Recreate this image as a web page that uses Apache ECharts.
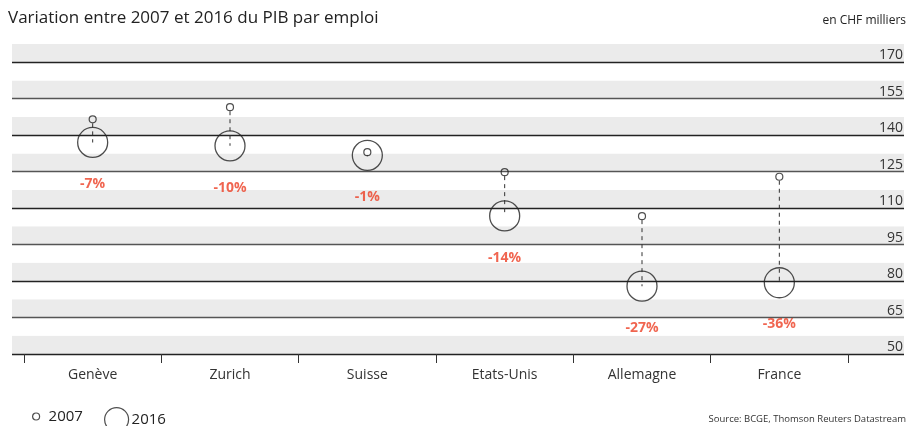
<!DOCTYPE html>
<html>
<head>
<meta charset="utf-8">
<script src="https://cdn.jsdelivr.net/npm/echarts@6/dist/echarts.min.js"></script>
<style>
  html, body { margin: 0; padding: 0; background: #fff; }
  #chart { width: 906px; height: 426px; }
</style>
</head>
<body>
<div id="chart"></div>
<script>
// données
var pays = ['Genève', 'Zurich', 'Suisse', 'Etats-Unis', 'Allemagne', 'France'];
var pib2007 = [146.5, 151.5, 133, 124.8, 106.7, 122.9];
var pib2016 = [137, 135.6, 131.7, 106.8, 77.9, 79.3];
var variation = ['-7%', '-10%', '-1%', '-14%', '-27%', '-36%'];

var police = '"Open Sans", "Noto Sans", sans-serif';
var yMin = 50, yMax = 177.5;

var chart = echarts.init(document.getElementById('chart'));

var option = {
    animation: false,
    textStyle: { fontFamily: police },
    title: [{
        text: 'Variation entre 2007 et 2016 du PIB par emploi',
        left: 3, top: 5,
        textStyle: { fontSize: 17, fontWeight: 'normal', color: '#222', fontFamily: police }
    }, {
        text: 'en CHF milliers',
        right: -5, top: 10,
        textStyle: { fontSize: 12, fontWeight: 'normal', color: '#222', fontFamily: police }
    }, {
        text: 'Source: BCGE, Thomson Reuters Datastream',
        right: -5, top: 409,
        textStyle: { fontSize: 9.5, fontWeight: 'normal', color: '#333', fontFamily: police }
    }],
    legend: [{
        data: ['2007'],
        left: 27, top: 404,
        itemWidth: 7, itemHeight: 7,
        icon: 'circle',
        itemStyle: { color: 'rgba(0,0,0,0)', borderColor: '#222', borderWidth: 1.2 },
        textStyle: { fontSize: 15, color: '#222', padding: [0, 0, 0, 4] },
        selectedMode: false
    }, {
        data: ['2016'],
        left: 99, top: 402,
        itemWidth: 24, itemHeight: 24,
        icon: 'circle',
        itemStyle: { color: 'rgba(0,0,0,0)', borderColor: '#222', borderWidth: 1.2 },
        textStyle: { fontSize: 15, color: '#222', padding: [0, 0, 0, -2] },
        selectedMode: false
    }],
    grid: [
        { left: 12, right: 0, top: 44, bottom: 72 },
        { left: 24, right: 58, top: 44, bottom: 72 }
    ],
    xAxis: [{
        gridIndex: 0, type: 'value', show: false
    }, {
        gridIndex: 1,
        type: 'category',
        data: pays,
        boundaryGap: true,
        axisLine: { show: false },
        axisTick: { show: true, length: 9, lineStyle: { color: '#333' } },
        axisLabel: { fontSize: 14, color: '#333', margin: 14 },
        splitLine: { show: false }
    }],
    yAxis: [{
        gridIndex: 0,
        type: 'value',
        position: 'right',
        min: yMin, max: yMax, interval: 7.5,
        axisLine: { show: false },
        axisTick: { show: false },
        splitArea: { show: true, areaStyle: { color: ['#ebebeb', '#ffffff'] } },
        splitLine: {
            show: true,
            lineStyle: { width: 1.3, color: ['#222', 'rgba(0,0,0,0)', '#555', 'rgba(0,0,0,0)'] }
        },
        axisLabel: {
            inside: true,
            margin: 1,
            fontSize: 14,
            color: '#333',
            verticalAlign: 'bottom',
            formatter: function (v) {
                return ((v - yMin) % 15 === 0) ? String(v) : '';
            }
        }
    }, {
        gridIndex: 1, type: 'value', min: yMin, max: yMax, show: false
    }],
    series: [{
        name: 'variation',
        type: 'custom',
        xAxisIndex: 1, yAxisIndex: 1,
        silent: true,
        data: pays.map(function (p, i) { return [i, pib2007[i], pib2016[i]]; }),
        renderItem: function (params, api) {
            var a = api.coord([api.value(0), api.value(1)]);
            var b = api.coord([api.value(0), api.value(2)]);
            return {
                type: 'line',
                shape: { x1: a[0], y1: a[1] + 4, x2: b[0], y2: b[1] },
                style: { stroke: '#333', lineWidth: 1, lineDash: [4, 4] }
            };
        },
        z: 1
    }, {
        name: '2016',
        type: 'scatter',
        xAxisIndex: 1, yAxisIndex: 1,
        symbol: 'circle',
        symbolSize: 30,
        silent: true,
        itemStyle: { color: 'rgba(0,0,0,0)', borderColor: '#222', borderWidth: 1.3 },
        label: {
            show: true,
            position: 'bottom',
            distance: 19,
            fontSize: 14,
            fontWeight: 'bold',
            color: '#ec3e24',
            formatter: function (p) { return variation[p.dataIndex]; }
        },
        data: pib2016,
        z: 3
    }, {
        name: '2007',
        type: 'scatter',
        xAxisIndex: 1, yAxisIndex: 1,
        symbol: 'circle',
        symbolSize: 7,
        silent: true,
        itemStyle: { color: 'rgba(0,0,0,0)', borderColor: '#222', borderWidth: 1.2 },
        data: pib2007,
        z: 3
    }]
};

chart.setOption(option);
</script>
</body>
</html>
